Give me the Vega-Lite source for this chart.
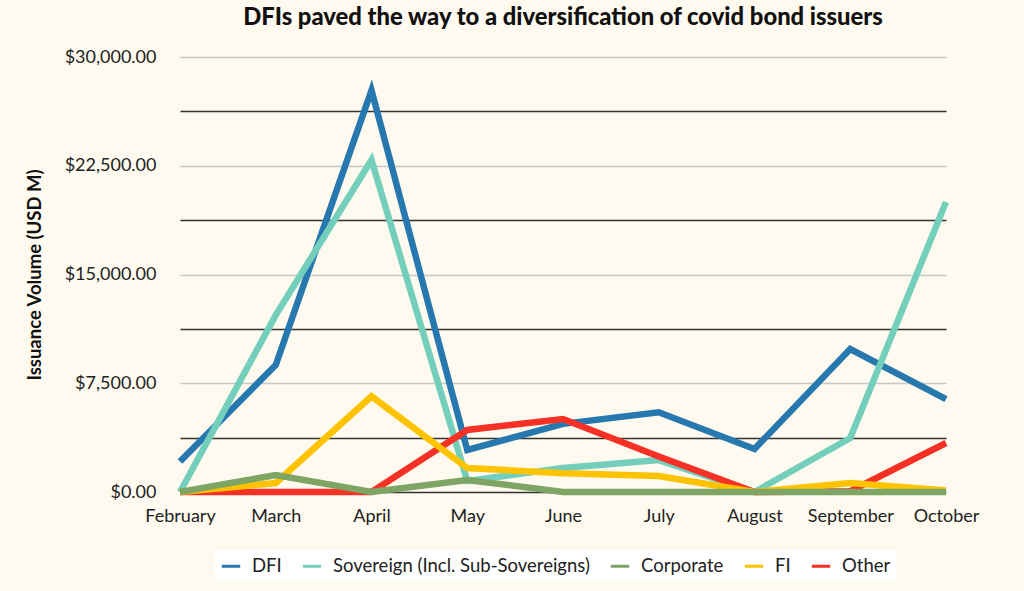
{
  "$schema": "https://vega.github.io/schema/vega-lite/v6.json",
  "width": 766,
  "height": 435,
  "autosize": {"type": "none"},
  "padding": {"left": 180, "top": 57, "right": 78, "bottom": 99},
  "background": "#fefaef",
  "config": {"view": {"stroke": null}, "font": "Lato"},
  "title": {"text": "DFIs paved the way to a diversification of covid bond issuers", "fontSize": 23.8, "fontWeight": 900, "color": "#111", "offset": 18, "font": "Lato"},
  "data": {"values": [
    {"month": "February", "series": "DFI", "k": 0, "value": 2100},
    {"month": "March", "series": "DFI", "k": 0, "value": 8760},
    {"month": "April", "series": "DFI", "k": 0, "value": 27700},
    {"month": "May", "series": "DFI", "k": 0, "value": 2900},
    {"month": "June", "series": "DFI", "k": 0, "value": 4700},
    {"month": "July", "series": "DFI", "k": 0, "value": 5500},
    {"month": "August", "series": "DFI", "k": 0, "value": 2970},
    {"month": "September", "series": "DFI", "k": 0, "value": 9860},
    {"month": "October", "series": "DFI", "k": 0, "value": 6400},
    {"month": "February", "series": "Sovereign (Incl. Sub-Sovereigns)", "k": 1, "value": 0},
    {"month": "March", "series": "Sovereign (Incl. Sub-Sovereigns)", "k": 1, "value": 12200},
    {"month": "April", "series": "Sovereign (Incl. Sub-Sovereigns)", "k": 1, "value": 22900},
    {"month": "May", "series": "Sovereign (Incl. Sub-Sovereigns)", "k": 1, "value": 760},
    {"month": "June", "series": "Sovereign (Incl. Sub-Sovereigns)", "k": 1, "value": 1650},
    {"month": "July", "series": "Sovereign (Incl. Sub-Sovereigns)", "k": 1, "value": 2200},
    {"month": "August", "series": "Sovereign (Incl. Sub-Sovereigns)", "k": 1, "value": 0},
    {"month": "September", "series": "Sovereign (Incl. Sub-Sovereigns)", "k": 1, "value": 3720},
    {"month": "October", "series": "Sovereign (Incl. Sub-Sovereigns)", "k": 1, "value": 20000},
    {"month": "February", "series": "Other", "k": 2, "value": 0},
    {"month": "March", "series": "Other", "k": 2, "value": 0},
    {"month": "April", "series": "Other", "k": 2, "value": 0},
    {"month": "May", "series": "Other", "k": 2, "value": 4280},
    {"month": "June", "series": "Other", "k": 2, "value": 5030},
    {"month": "July", "series": "Other", "k": 2, "value": 2450},
    {"month": "August", "series": "Other", "k": 2, "value": 0},
    {"month": "September", "series": "Other", "k": 2, "value": 50},
    {"month": "October", "series": "Other", "k": 2, "value": 3380},
    {"month": "February", "series": "FI", "k": 3, "value": 0},
    {"month": "March", "series": "FI", "k": 3, "value": 620},
    {"month": "April", "series": "FI", "k": 3, "value": 6600},
    {"month": "May", "series": "FI", "k": 3, "value": 1650},
    {"month": "June", "series": "FI", "k": 3, "value": 1300},
    {"month": "July", "series": "FI", "k": 3, "value": 1100},
    {"month": "August", "series": "FI", "k": 3, "value": 0},
    {"month": "September", "series": "FI", "k": 3, "value": 620},
    {"month": "October", "series": "FI", "k": 3, "value": 100},
    {"month": "February", "series": "Corporate", "k": 4, "value": 0},
    {"month": "March", "series": "Corporate", "k": 4, "value": 1170},
    {"month": "April", "series": "Corporate", "k": 4, "value": 0},
    {"month": "May", "series": "Corporate", "k": 4, "value": 830},
    {"month": "June", "series": "Corporate", "k": 4, "value": 0},
    {"month": "July", "series": "Corporate", "k": 4, "value": 0},
    {"month": "August", "series": "Corporate", "k": 4, "value": 0},
    {"month": "September", "series": "Corporate", "k": 4, "value": 0},
    {"month": "October", "series": "Corporate", "k": 4, "value": 0}
  ]},
  "mark": {"type": "line", "strokeWidth": 6.5, "clip": false},
  "encoding": {
    "x": {
      "field": "month", "type": "ordinal",
      "sort": ["February", "March", "April", "May", "June", "July", "August", "September", "October"],
      "scale": {"type": "point", "padding": 0},
      "axis": {"title": null, "labelAngle": 0, "labelFontSize": 18, "labelColor": "#222", "domain": false, "ticks": false, "labelPadding": 15, "grid": false, "labelFont": "Lato"}
    },
    "y": {
      "field": "value", "type": "quantitative",
      "scale": {"domain": [0, 30000], "nice": false},
      "axis": {
        "title": "Issuance Volume (USD M)", "titleFontSize": 18.5, "titleFontWeight": "bold", "titleColor": "#111", "titlePadding": 20, "titleFont": "Lato",
        "values": [0, 3750, 7500, 11250, 15000, 18750, 22500, 26250, 30000],
        "labelExpr": "datum.value % 7500 === 0 ? '$' + format(datum.value, ',.2f') : ''",
        "labelFontSize": 18, "labelColor": "#222", "labelPadding": 24, "labelFont": "Lato",
        "domain": false, "ticks": false, "grid": true,
        "gridColor": {"condition": {"test": "datum.value % 7500 === 0 && datum.value > 0", "value": "#c8c8c8"}, "value": "#333333"},
        "gridWidth": 1.5
      }
    },
    "color": {
      "field": "series", "type": "nominal",
      "scale": {
        "domain": ["DFI", "Sovereign (Incl. Sub-Sovereigns)", "Corporate", "FI", "Other"],
        "range": ["#2878b0", "#73cfbb", "#7ea563", "#fdc300", "#f43124"]
      },
      "legend": {
        "title": null, "orient": "none", "legendX": 35, "legendY": 493, "direction": "horizontal",
        "fillColor": "#ffffff", "padding": 5, "symbolType": "stroke", "symbolStrokeWidth": 3, "symbolSize": 340,
        "labelFontSize": 18.5, "labelColor": "#222", "labelFont": "Lato", "labelLimit": 500, "columnPadding": 14, "labelOffset": 10
      }
    },
    "order": {"field": "k"}
  }
}
